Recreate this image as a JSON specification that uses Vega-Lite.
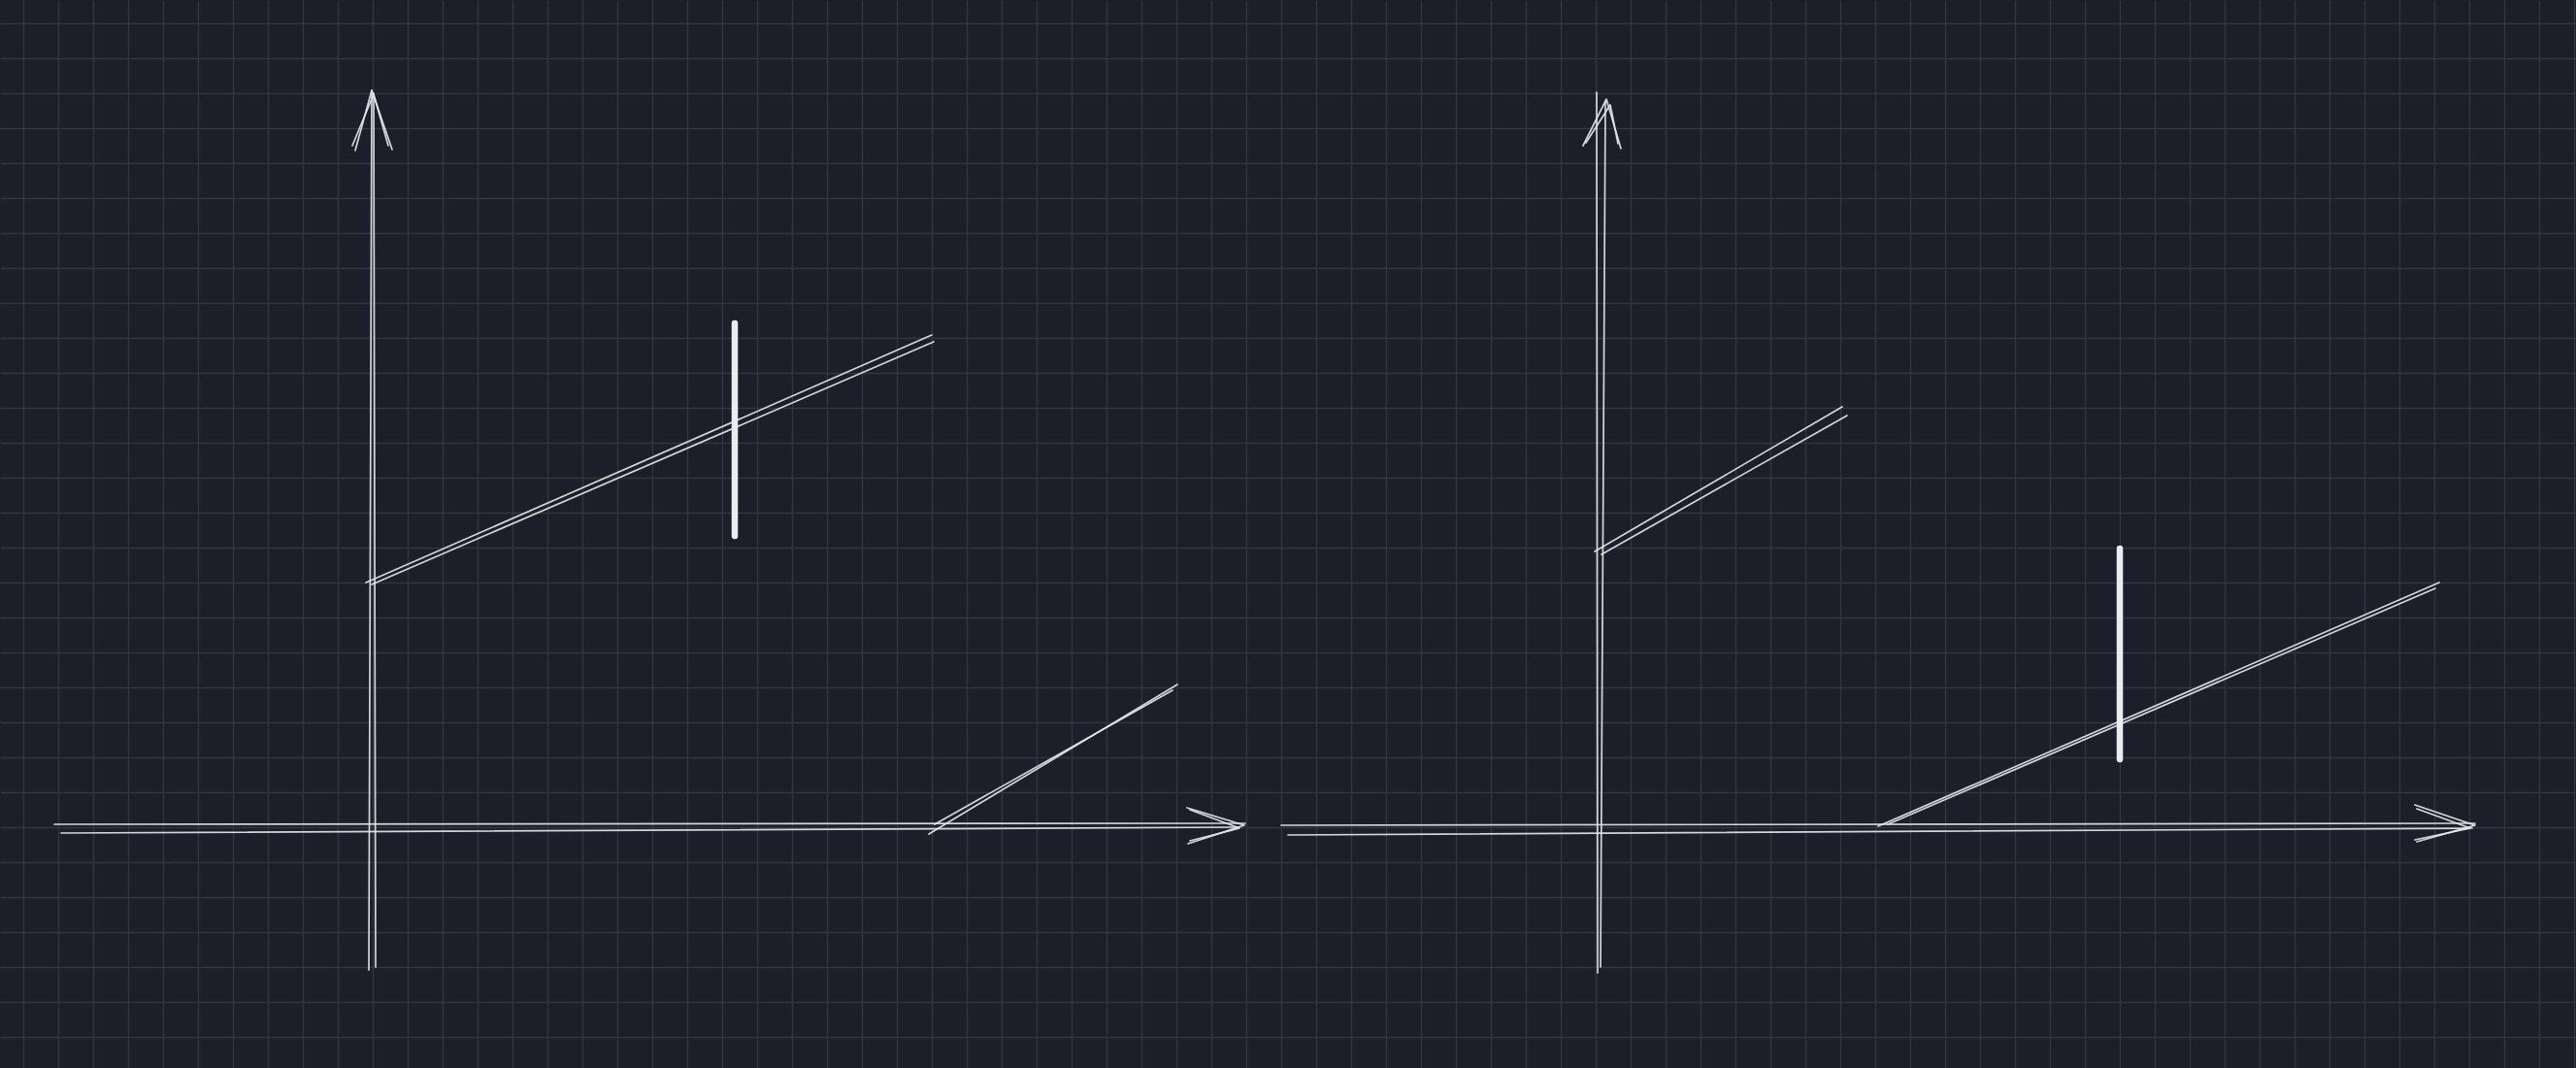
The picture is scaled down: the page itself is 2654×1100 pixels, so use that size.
{
  "$schema": "https://vega.github.io/schema/vega-lite/v6.json",
  "width": 2654,
  "height": 1100,
  "autosize": {"type": "fit", "contains": "padding"},
  "padding": 0,
  "background": "#1e1e2a",
  "config": {"view": {"stroke": null}},
  "data": {
    "values": [
      {"seg": "LY1", "kind": "thin", "ord": 0, "u": 9.972, "v": 1.917},
      {"seg": "LY1", "kind": "thin", "ord": 1, "u": 9.889, "v": 27.083},
      {"seg": "LY2", "kind": "thin", "ord": 0, "u": 10.028, "v": 2.0},
      {"seg": "LY2", "kind": "thin", "ord": 1, "u": 10.083, "v": 27.0},
      {"seg": "LYA1", "kind": "thin", "ord": 0, "u": 9.5, "v": 3.639},
      {"seg": "LYA1", "kind": "thin", "ord": 1, "u": 9.972, "v": 1.917},
      {"seg": "LYA1", "kind": "thin", "ord": 2, "u": 10.556, "v": 3.611},
      {"seg": "LYA2", "kind": "thin", "ord": 0, "u": 9.417, "v": 3.5},
      {"seg": "LYA2", "kind": "thin", "ord": 1, "u": 10.028, "v": 2.028},
      {"seg": "LYA2", "kind": "thin", "ord": 2, "u": 10.444, "v": 3.5},
      {"seg": "LX1", "kind": "thin", "ord": 0, "u": 0.889, "v": 22.917},
      {"seg": "LX1", "kind": "thin", "ord": 1, "u": 34.972, "v": 22.889},
      {"seg": "LX2", "kind": "thin", "ord": 0, "u": 1.083, "v": 23.167},
      {"seg": "LX2", "kind": "thin", "ord": 1, "u": 34.778, "v": 23.0},
      {"seg": "LXA1", "kind": "thin", "ord": 0, "u": 33.306, "v": 22.444},
      {"seg": "LXA1", "kind": "thin", "ord": 1, "u": 34.944, "v": 22.944},
      {"seg": "LXA1", "kind": "thin", "ord": 2, "u": 33.333, "v": 23.472},
      {"seg": "LXA2", "kind": "thin", "ord": 0, "u": 33.389, "v": 22.5},
      {"seg": "LXA2", "kind": "thin", "ord": 1, "u": 34.806, "v": 23.028},
      {"seg": "LXA2", "kind": "thin", "ord": 2, "u": 33.389, "v": 23.389},
      {"seg": "LD1", "kind": "thin", "ord": 0, "u": 9.806, "v": 16.0},
      {"seg": "LD1", "kind": "thin", "ord": 1, "u": 26.0, "v": 8.917},
      {"seg": "LD2", "kind": "thin", "ord": 0, "u": 9.972, "v": 16.056},
      {"seg": "LD2", "kind": "thin", "ord": 1, "u": 26.056, "v": 9.111},
      {"seg": "LL1", "kind": "thin", "ord": 0, "u": 25.917, "v": 23.194},
      {"seg": "LL1", "kind": "thin", "ord": 1, "u": 33.028, "v": 18.917},
      {"seg": "LL2", "kind": "thin", "ord": 0, "u": 26.083, "v": 22.917},
      {"seg": "LL2", "kind": "thin", "ord": 1, "u": 32.889, "v": 19.083},
      {"seg": "LB", "kind": "thick", "ord": 0, "u": 20.361, "v": 8.583},
      {"seg": "LB", "kind": "thick", "ord": 1, "u": 20.361, "v": 14.667},
      {"seg": "RY1", "kind": "thin", "ord": 0, "u": 45.028, "v": 1.972},
      {"seg": "RY1", "kind": "thin", "ord": 1, "u": 45.056, "v": 27.167},
      {"seg": "RY2", "kind": "thin", "ord": 0, "u": 45.278, "v": 2.222},
      {"seg": "RY2", "kind": "thin", "ord": 1, "u": 45.139, "v": 27.0},
      {"seg": "RYA1", "kind": "thin", "ord": 0, "u": 44.639, "v": 3.5},
      {"seg": "RYA1", "kind": "thin", "ord": 1, "u": 45.306, "v": 2.167},
      {"seg": "RYA1", "kind": "thin", "ord": 2, "u": 45.722, "v": 3.583},
      {"seg": "RYA2", "kind": "thin", "ord": 0, "u": 44.722, "v": 3.417},
      {"seg": "RYA2", "kind": "thin", "ord": 1, "u": 45.417, "v": 2.333},
      {"seg": "RYA2", "kind": "thin", "ord": 2, "u": 45.639, "v": 3.444},
      {"seg": "RX1", "kind": "thin", "ord": 0, "u": 36.0, "v": 22.944},
      {"seg": "RX1", "kind": "thin", "ord": 1, "u": 70.167, "v": 22.889},
      {"seg": "RX2", "kind": "thin", "ord": 0, "u": 36.194, "v": 23.222},
      {"seg": "RX2", "kind": "thin", "ord": 1, "u": 70.083, "v": 23.028},
      {"seg": "RXA1", "kind": "thin", "ord": 0, "u": 68.444, "v": 22.361},
      {"seg": "RXA1", "kind": "thin", "ord": 1, "u": 70.167, "v": 22.944},
      {"seg": "RXA1", "kind": "thin", "ord": 2, "u": 68.5, "v": 23.417},
      {"seg": "RXA2", "kind": "thin", "ord": 0, "u": 68.5, "v": 22.472},
      {"seg": "RXA2", "kind": "thin", "ord": 1, "u": 70.028, "v": 23.028},
      {"seg": "RXA2", "kind": "thin", "ord": 2, "u": 68.444, "v": 23.361},
      {"seg": "RD1", "kind": "thin", "ord": 0, "u": 44.972, "v": 15.111},
      {"seg": "RD1", "kind": "thin", "ord": 1, "u": 52.056, "v": 10.972},
      {"seg": "RD2", "kind": "thin", "ord": 0, "u": 45.167, "v": 15.194},
      {"seg": "RD2", "kind": "thin", "ord": 1, "u": 52.194, "v": 11.222},
      {"seg": "RL1", "kind": "thin", "ord": 0, "u": 53.083, "v": 22.972},
      {"seg": "RL1", "kind": "thin", "ord": 1, "u": 69.139, "v": 16.0},
      {"seg": "RL2", "kind": "thin", "ord": 0, "u": 53.361, "v": 22.917},
      {"seg": "RL2", "kind": "thin", "ord": 1, "u": 69.028, "v": 16.167},
      {"seg": "RB", "kind": "thick", "ord": 0, "u": 60.0, "v": 15.028},
      {"seg": "RB", "kind": "thick", "ord": 1, "u": 60.0, "v": 21.056}
    ]
  },
  "encoding": {
    "x": {
      "field": "u", "type": "quantitative",
      "scale": {"domain": [-0.6667, 73.0556], "nice": false, "zero": false},
      "axis": {
        "title": null, "labels": false, "ticks": false, "domain": false,
        "grid": true, "gridColor": "#35343f", "gridWidth": 1.4,
        "values": [0,1,2,3,4,5,6,7,8,9,10,11,12,13,14,15,16,17,18,19,20,21,22,23,24,25,26,27,28,29,30,31,32,33,34,35,36,37,38,39,40,41,42,43,44,45,46,47,48,49,50,51,52,53,54,55,56,57,58,59,60,61,62,63,64,65,66,67,68,69,70,71,72,73],
        "minExtent": 0, "maxExtent": 0, "offset": 0
      }
    },
    "y": {
      "field": "v", "type": "quantitative",
      "scale": {"domain": [-0.6667, 29.8889], "nice": false, "zero": false, "reverse": true},
      "axis": {
        "title": null, "labels": false, "ticks": false, "domain": false,
        "grid": true, "gridColor": "#35343f", "gridWidth": 1.4,
        "values": [0,1,2,3,4,5,6,7,8,9,10,11,12,13,14,15,16,17,18,19,20,21,22,23,24,25,26,27,28,29],
        "minExtent": 0, "maxExtent": 0, "offset": 0
      }
    },
    "detail": {"field": "seg", "type": "nominal"},
    "order": {"field": "ord", "type": "quantitative"}
  },
  "layer": [
    {
      "transform": [{"filter": "datum.kind === 'thin'"}],
      "mark": {"type": "line", "color": "#e4e4ea", "strokeWidth": 1.7, "opacity": 0.92, "strokeCap": "round", "strokeJoin": "round"}
    },
    {
      "transform": [{"filter": "datum.kind === 'thick'"}],
      "mark": {"type": "line", "color": "#ececf0", "strokeWidth": 6.5, "strokeCap": "round"}
    }
  ]
}
